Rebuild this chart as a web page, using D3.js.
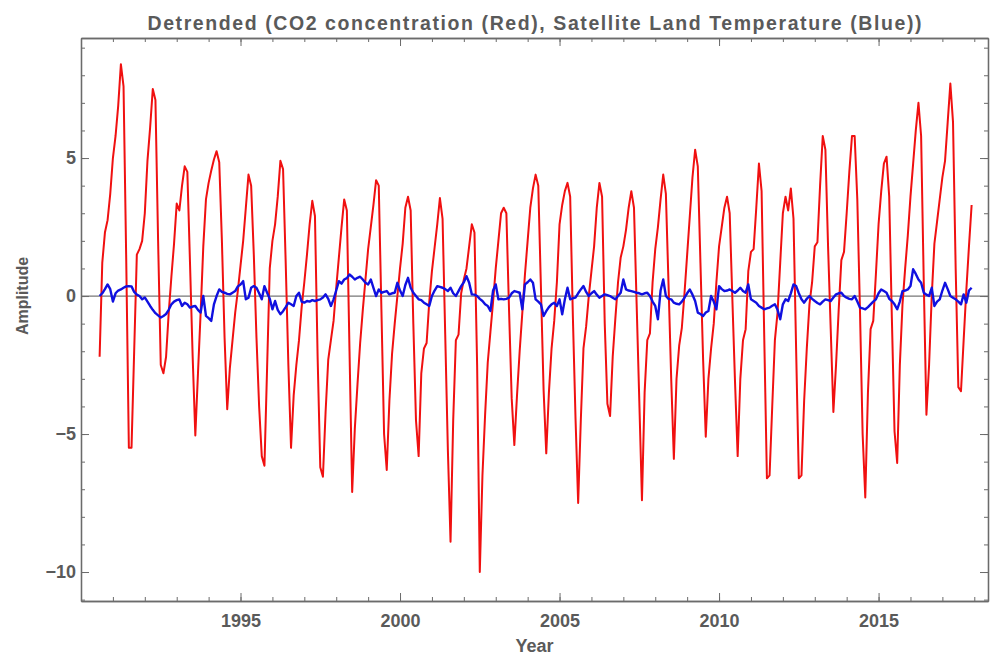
<!DOCTYPE html>
<html><head><meta charset="utf-8">
<script src="https://cdn.jsdelivr.net/npm/d3@7"></script>
<style>body{margin:0;background:#fff;}svg{display:block;}</style>
</head><body>
<svg id="chart" width="991" height="656"></svg>
<script>
// Monthly series, starting August 1990
const startYear = 1990, startMonth = 8;
const co2 = [
-2.2,1.2,2.3,2.75,3.7,5.0,5.8,6.9,8.4,7.6,1.4,-5.5,
-5.5,-2.0,1.5,1.7,2.0,3.0,4.9,6.1,7.5,7.1,2.0,-2.5,
-2.8,-2.2,-0.6,0.7,1.9,3.35,3.1,4.0,4.7,4.5,1.2,-2.2,
-5.05,-2.8,-0.6,1.8,3.5,4.1,4.55,4.95,5.25,4.85,2.0,-1.5,
-4.1,-2.6,-1.6,-0.6,0.2,1.1,2.0,3.2,4.4,4.0,1.5,-1.5,
-4.0,-5.8,-6.15,-2.6,1.0,2.0,2.6,3.6,4.9,4.6,1.2,-2.5,
-5.5,-3.6,-2.5,-1.6,-0.4,0.5,1.5,2.6,3.45,2.9,-2.2,-6.2,
-6.55,-4.2,-2.3,-1.6,-0.9,0.3,1.4,2.5,3.5,3.1,-2.0,-7.1,
-4.8,-3.2,-1.7,-0.5,0.6,1.7,2.5,3.3,4.2,4.0,-0.5,-5.0,
-6.3,-3.8,-2.1,-1.0,0.0,1.0,1.9,3.2,3.6,3.1,-1.0,-4.5,
-5.8,-2.8,-1.9,-1.7,-0.2,0.9,1.75,2.6,3.55,2.8,-1.4,-5.6,
-8.9,-4.5,-1.6,-1.4,0.1,0.6,1.0,1.8,2.6,2.3,-2.5,-10.0,
-6.5,-4.3,-2.4,-1.3,-0.2,1.0,2.0,3.0,3.2,3.0,-0.5,-3.7,
-5.4,-3.6,-2.0,-0.6,0.8,2.0,3.2,3.9,4.4,4.0,0.3,-3.4,
-5.7,-3.5,-1.9,-0.9,0.5,2.6,3.3,3.8,4.1,3.6,-0.7,-4.4,
-7.5,-4.5,-1.9,-1.1,0.0,0.9,1.8,3.2,4.1,3.6,-1.0,-3.9,
-4.35,-2.2,-0.8,0.5,1.4,1.8,2.4,3.2,3.8,3.2,-0.3,-3.8,
-7.4,-3.5,-1.6,-1.35,0.5,1.7,2.5,3.5,4.4,3.7,0.4,-3.0,
-5.9,-3.0,-1.8,-1.15,0.1,1.5,2.9,4.3,5.3,4.7,1.2,-2.3,
-5.1,-3.0,-1.9,-1.0,0.5,1.8,2.5,3.2,3.6,3.0,-0.1,-3.1,
-5.8,-3.0,-1.6,-1.2,0.9,1.6,1.7,3.2,4.8,3.8,-1.5,-6.6,
-6.5,-4.0,-1.6,-0.6,1.2,3.0,3.6,3.1,3.9,2.8,-2.0,-6.6,
-6.5,-3.8,-1.9,-0.3,0.5,1.8,1.95,4.0,5.8,5.3,1.8,-1.2,
-4.2,-2.5,-0.5,1.3,1.6,3.0,4.5,5.8,5.8,3.5,-0.5,-5.0,
-7.3,-3.5,-1.2,-0.9,0.8,2.6,3.8,4.8,5.05,3.6,-0.8,-4.9,
-6.05,-2.5,-0.3,1.0,2.2,3.6,4.8,6.0,7.0,5.8,0.5,-4.3,
-2.5,0.0,1.9,2.7,3.5,4.3,4.9,6.3,7.7,6.3,1.0,-3.3,
-3.45,-1.6,0.2,1.8,3.3
];
const temp = [
0.0,0.1,0.25,0.42,0.25,-0.2,0.1,0.2,0.24,0.3,0.35,0.36,
0.35,0.15,0.05,0.0,-0.12,-0.05,-0.2,-0.36,-0.5,-0.62,-0.7,-0.78,
-0.72,-0.65,-0.5,-0.3,-0.2,-0.15,-0.12,-0.36,-0.24,-0.3,-0.42,-0.38,
-0.36,-0.5,-0.6,0.0,-0.72,-0.8,-0.9,-0.3,0.0,0.24,0.15,0.12,
0.08,0.06,0.12,0.18,0.35,0.42,0.54,-0.12,-0.06,0.3,0.36,0.3,
0.1,-0.12,0.36,0.12,-0.1,-0.48,-0.18,-0.5,-0.66,-0.55,-0.4,-0.24,
-0.3,-0.36,0.0,0.12,-0.2,-0.24,-0.18,-0.2,-0.15,-0.18,-0.15,-0.12,
-0.05,0.06,-0.1,-0.36,-0.12,0.2,0.54,0.45,0.6,0.65,0.78,0.7,
0.6,0.66,0.7,0.6,0.48,0.42,0.6,0.3,0.0,0.24,0.12,0.15,
0.18,0.06,0.1,0.12,0.48,0.2,0.0,0.4,0.66,0.3,0.12,0.0,
-0.12,-0.15,-0.24,-0.3,-0.36,0.0,0.2,0.36,0.33,0.3,0.25,0.18,
0.3,0.1,0.0,0.18,0.36,0.5,0.72,0.48,0.06,0.05,0.0,-0.1,
-0.18,-0.3,-0.36,-0.54,0.2,0.42,-0.12,-0.1,-0.12,-0.1,-0.06,0.1,
0.18,0.15,0.12,-0.48,0.42,0.5,0.6,0.48,-0.12,-0.2,-0.3,-0.72,
-0.55,-0.4,-0.3,-0.24,-0.36,-0.12,-0.66,-0.12,0.3,-0.12,-0.08,-0.06,
0.1,0.24,0.36,0.15,0.0,0.1,0.18,0.05,-0.06,0.0,0.06,0.03,
0.0,-0.06,-0.12,0.0,0.12,0.6,0.24,0.2,0.18,0.15,0.12,0.1,
0.06,0.1,0.12,0.0,-0.2,-0.36,-0.84,0.2,0.6,0.0,-0.1,-0.12,
-0.24,-0.28,-0.3,-0.2,-0.06,0.1,0.24,0.05,-0.18,-0.6,-0.65,-0.72,
-0.6,-0.54,0.0,-0.2,-0.48,0.36,0.25,0.18,0.2,0.24,0.18,0.12,
0.2,0.3,0.18,0.12,0.42,-0.12,-0.18,-0.24,-0.36,-0.42,-0.48,-0.45,
-0.42,-0.35,-0.3,-0.5,-0.84,-0.3,-0.12,-0.18,0.1,0.42,0.36,0.1,
-0.12,-0.24,-0.1,0.0,-0.1,-0.18,-0.25,-0.3,-0.2,-0.12,-0.15,-0.18,
-0.05,0.06,0.1,0.12,0.0,-0.06,-0.1,-0.12,0.0,-0.2,-0.42,-0.45,
-0.48,-0.4,-0.3,-0.2,-0.12,0.1,0.24,0.18,0.12,-0.1,-0.18,-0.3,
-0.48,-0.2,0.18,0.2,0.24,0.36,0.97,0.8,0.6,0.48,0.12,0.05,
0.0,0.3,-0.36,-0.2,-0.12,0.2,0.48,0.25,0.0,-0.06,-0.12,-0.2,
-0.3,0.06,-0.24,0.2,0.3
];
const xMajorTicks = [1995, 2000, 2005, 2010, 2015];
const yMajorTicks = [-10, -5, 0, 5];
const titleText = "Detrended (CO2 concentration (Red), Satellite Land Temperature (Blue))";
const xLabel = "Year", yLabel = "Amplitude";

const timeOf = i => startYear + (startMonth - 1 + i) / 12;

const L = 81, R = 988, T = 38, B = 601;
const x = d3.scaleLinear().domain([1990, 2018.43]).range([L, R]);
const y = d3.scaleLinear().domain([-11.05, 9.35]).range([B, T]);

const svg = d3.select("#chart");
const frameCol = "#6b6b6b", textCol = "#5a5a5a";
const font = "'Liberation Sans', Arial, sans-serif";

svg.append("clipPath").attr("id","clip").append("rect")
  .attr("x", L).attr("y", T).attr("width", R-L).attr("height", B-T);

// zero axis line
svg.append("line").attr("x1", L).attr("x2", R).attr("y1", y(0)).attr("y2", y(0))
  .attr("stroke", "#777").attr("stroke-width", 1.2);

const line = d3.line().x((d,i) => x(timeOf(i))).y(d => y(d));
const g = svg.append("g").attr("clip-path","url(#clip)");
g.append("path").datum(co2).attr("d", line).attr("fill","none")
  .attr("stroke","#f01010").attr("stroke-width",2).attr("stroke-linejoin","round");
g.append("path").datum(temp).attr("d", line).attr("fill","none")
  .attr("stroke","#1010e0").attr("stroke-width",2.4).attr("stroke-linejoin","round");

// axes (ticks point inward)
const xMinor = d3.range(1990, 2019);
const yMinor = d3.range(-11, 10);
function styleAxis(sel){
  sel.select(".domain").attr("stroke", frameCol).attr("stroke-width",1.3);
  sel.selectAll(".tick line").attr("stroke", frameCol).attr("stroke-width",1);
  sel.selectAll(".tick text").attr("fill", textCol).attr("font-family", font)
    .attr("font-weight","bold").attr("font-size", 18);
}
svg.append("g").attr("transform",`translate(0,${B})`)
  .call(d3.axisBottom(x).tickValues(xMinor).tickSize(-4).tickFormat("").tickSizeOuter(0))
  .call(styleAxis);
svg.append("g").attr("transform",`translate(0,${T})`)
  .call(d3.axisTop(x).tickValues(xMinor).tickSize(-4).tickFormat("").tickSizeOuter(0))
  .call(styleAxis);
svg.append("g").attr("transform",`translate(${L},0)`)
  .call(d3.axisLeft(y).tickValues(yMinor).tickSize(-4).tickFormat("").tickSizeOuter(0))
  .call(styleAxis);
svg.append("g").attr("transform",`translate(${R},0)`)
  .call(d3.axisRight(y).tickValues(yMinor).tickSize(-4).tickFormat("").tickSizeOuter(0))
  .call(styleAxis);
svg.append("g").attr("transform",`translate(0,${B})`)
  .call(d3.axisBottom(x).tickValues(xMajorTicks).tickSize(-8).tickPadding(13).tickFormat(d3.format("d")).tickSizeOuter(0))
  .call(styleAxis);
svg.append("g").attr("transform",`translate(0,${T})`)
  .call(d3.axisTop(x).tickValues(xMajorTicks).tickSize(-8).tickFormat("").tickSizeOuter(0))
  .call(styleAxis);
svg.append("g").attr("transform",`translate(${L},0)`)
  .call(d3.axisLeft(y).tickValues(yMajorTicks).tickSize(-8).tickPadding(5)
    .tickFormat(d => d < 0 ? "\u2212" + Math.abs(d) : d).tickSizeOuter(0))
  .call(styleAxis);
svg.append("g").attr("transform",`translate(${R},0)`)
  .call(d3.axisRight(y).tickValues(yMajorTicks).tickSize(-8).tickFormat("").tickSizeOuter(0))
  .call(styleAxis);

// title and labels
svg.append("text").attr("x", (L+R)/2).attr("y", 30).attr("text-anchor","middle")
  .attr("font-family", font).attr("font-weight","bold").attr("font-size", 19.5)
  .attr("textLength", 774).attr("lengthAdjust","spacing")
  .attr("fill", textCol).text(titleText);
svg.append("text").attr("x", (L+R)/2).attr("y", 652).attr("text-anchor","middle")
  .attr("font-family", font).attr("font-weight","bold").attr("font-size", 18)
  .attr("fill", textCol).text(xLabel);
svg.append("text").attr("transform","translate(28,296) rotate(-90)").attr("text-anchor","middle")
  .attr("font-family", font).attr("font-weight","bold").attr("font-size", 16)
  .attr("fill", textCol).text(yLabel);
</script>
</body></html>
